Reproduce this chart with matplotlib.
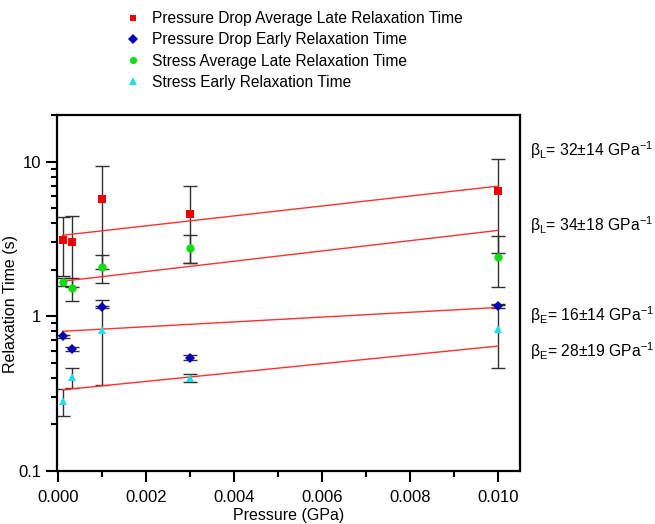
import matplotlib
matplotlib.use("Agg")
import matplotlib.pyplot as plt
import numpy as np
from matplotlib.lines import Line2D
from matplotlib.ticker import LogLocator, NullFormatter, FixedLocator, MultipleLocator

plt.rcParams['font.family'] = ['Liberation Sans', 'DejaVu Sans']
plt.rcParams['mathtext.fontset'] = 'custom'
plt.rcParams['mathtext.rm'] = 'Liberation Sans'
plt.rcParams['mathtext.it'] = 'Liberation Sans:italic'
plt.rcParams['mathtext.default'] = 'regular'

# ---- data ----
pressure = [0.0001, 0.0003, 0.001, 0.003, 0.01]

pd_late = [3.10, 3.00, 5.72, 4.57, 6.47]
pd_late_err = [1.29, 1.45, 3.70, 2.37, 3.90]

pd_early = [0.742, 0.614, 1.15, 0.54, 1.16]
pd_early_err = [0.02, 0.02, 0.02, 0.02, 0.03]

st_late = [1.66, 1.52, 2.07, 2.77, 2.43]
st_late_err = [0.10, 0.26, 0.42, 0.57, 0.88]

st_early = [0.283, 0.405, 0.82, 0.40, 0.83]
st_early_err = [0.056, 0.06, 0.46, 0.023, 0.37]

# fitted exponential lines: tau = A*exp(b*P), endpoints
fit_x = [0.0001, 0.01]
fit_pd_late = [3.34, 6.94]
fit_st_late = [1.685, 3.59]
fit_pd_early = [0.80, 1.14]
fit_st_early = [0.335, 0.642]

labels = ["Pressure Drop Average Late Relaxation Time",
          "Pressure Drop Early Relaxation Time",
          "Stress Average Late Relaxation Time",
          "Stress Early Relaxation Time"]

annotations = [r"$\beta_L$= 32$\pm$14 GPa$^{-1}$",
               r"$\beta_L$= 34$\pm$18 GPa$^{-1}$",
               r"$\beta_E$= 16$\pm$14 GPa$^{-1}$",
               r"$\beta_E$= 28$\pm$19 GPa$^{-1}$"]
annot_y = [150, 225, 315, 351]  # pixel rows

# ---- figure ----
W, H = 655, 524
fig = plt.figure(figsize=(W/100, H/100), dpi=100)
ax = fig.add_axes([57/W, 1-471/H, (520-57)/W, (471-115)/H])

series = [
    (pd_late, pd_late_err, 's', '#ee0000', 5.5),
    (pd_early, pd_early_err, 'D', '#0000b4', 5.5),
    (st_late, st_late_err, 'o', '#11dd11', 6.0),
    (st_early, st_early_err, '^', '#22dde6', 6.0),
]

for vals, err, m, c, ms in series:
    ax.errorbar(pressure, vals, yerr=err, fmt='none', ecolor='#303030',
                elinewidth=1.0, capsize=5, capthick=1.0, zorder=2)
for vals, err, m, c, ms in series:
    ax.plot(pressure, vals, linestyle='none', marker=m, color=c,
            markersize=ms, markeredgewidth=0, zorder=4)

xs = np.linspace(fit_x[0], fit_x[1], 50)
for ends in [fit_pd_late, fit_st_late, fit_pd_early, fit_st_early]:
    b = np.log(ends[1]/ends[0]) / (fit_x[1]-fit_x[0])
    a = ends[0]*np.exp(-b*fit_x[0])
    ax.plot(xs, a*np.exp(b*xs), color='#ff3030', linewidth=1.0, zorder=3)

ax.set_yscale('log')
ax.set_ylim(0.1, 20)
ax.set_xlim(-0.00003, 0.0105)

ax.xaxis.set_major_locator(FixedLocator([0, 0.002, 0.004, 0.006, 0.008, 0.010]))
ax.xaxis.set_minor_locator(MultipleLocator(0.001))
ax.set_xticklabels(['0.000', '0.002', '0.004', '0.006', '0.008', '0.010'])
ax.yaxis.set_major_locator(FixedLocator([0.1, 1, 10]))
ax.set_yticklabels(['0.1', '1', '10'])
ax.yaxis.set_minor_locator(LogLocator(base=10, subs=np.arange(2, 10)))
ax.yaxis.set_minor_formatter(NullFormatter())

ax.tick_params(axis='both', which='major', direction='out', length=8, width=1.5,
               labelsize=12, colors='black', top=False, right=False)
ax.tick_params(axis='x', which='major', pad=6)
ax.tick_params(axis='both', which='minor', direction='out', length=4.5, width=1.5,
               top=False, right=False)
for s in ax.spines.values():
    s.set_linewidth(1.6)

ax.set_xlabel('Pressure (GPa)', fontsize=11.5)
ax.xaxis.set_label_coords(0.5, -0.103)
ax.set_ylabel('Relaxation Time (s)', fontsize=11.5)
ax.yaxis.set_label_coords(-0.085, 0.47)

# annotations on right
for txt, yp in zip(annotations, annot_y):
    fig.text(530/W, 1-yp/H, txt, fontsize=11.3, va='center', ha='left')

# legend at top
handles = [Line2D([], [], linestyle='none', marker=m, color=c, markersize=ms*0.85,
                  markeredgewidth=0) for _, _, m, c, ms in series]
fig.legend(handles, labels, loc='upper left', bbox_to_anchor=(121/W, 1-8/H),
           frameon=False, fontsize=11.2, handlelength=1.2, handletextpad=0.6,
           labelspacing=0.4, borderaxespad=0, borderpad=0.2)

fig.savefig('out.png', dpi=100)
